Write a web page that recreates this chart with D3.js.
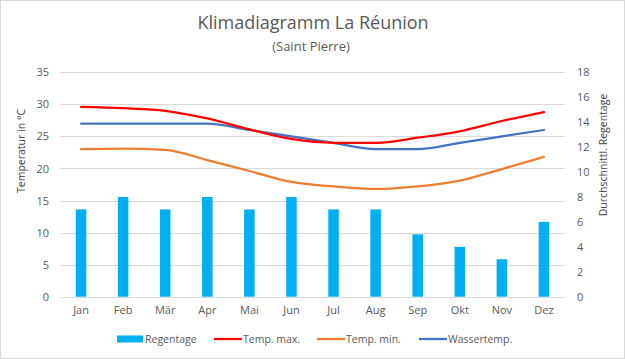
<!DOCTYPE html>
<html><head><meta charset="utf-8">
<script src="https://cdn.jsdelivr.net/npm/d3@7"></script>
<style>body{margin:0;background:#fff}svg{display:block}text{font-family:"Open Sans",sans-serif}</style>
</head><body><svg id="c" width="625" height="359"></svg>
<script>
const months = ["Jan","Feb","Mär","Apr","Mai","Jun","Jul","Aug","Sep","Okt","Nov","Dez"];
const regentage = [7,8,7,8,7,8,7,7,5,4,3,6];
const tempMax = [29.6,29.4,29.0,27.8,26.1,24.6,24.0,24.0,24.8,25.8,27.4,28.8];
const tempMin = [23.0,23.1,22.9,21.3,19.6,17.9,17.2,16.8,17.2,18.1,19.9,21.8];
const wasser = [27,27,27,27,26,25,24,23,23,24,25,26];
const leftTicks = [0,5,10,15,20,25,30,35];
const rightTicks = [0,2,4,6,8,10,12,14,16,18];

const svg = d3.select("#c");
svg.append("rect").attr("x",0.5).attr("y",0.5).attr("width",624).attr("height",358)
  .attr("fill","#fff").attr("stroke","#d9d9d9");

const L=60,R=565,T=72.3,B=296.7;
const x = d3.scaleBand().domain(months).range([L,R]).paddingInner(0.75).paddingOuter(0.375);
const xc = d => x(d)+x.bandwidth()/2;
const yL = d3.scaleLinear().domain([0,35]).range([B,T]);
const yR = d3.scaleLinear().domain([0,18]).range([B,T]);

svg.append("g").selectAll("line").data(leftTicks).join("line")
  .attr("x1",L).attr("x2",R).attr("y1",d=>Math.round(yL(d))+0.5).attr("y2",d=>Math.round(yL(d))+0.5)
  .attr("stroke","#d9d9d9").attr("stroke-width",1);

const tickStyle = g => { g.select(".domain").remove();
  g.selectAll("text").attr("fill","#595959").style("font-size","11px").style("font-family","Open Sans"); };

svg.append("g").attr("transform",`translate(${L-11},0)`)
  .call(d3.axisLeft(yL).tickValues(leftTicks).tickSize(0).tickPadding(0)).call(tickStyle);
svg.append("g").attr("transform",`translate(${R+12},0)`)
  .call(d3.axisRight(yR).tickValues(rightTicks).tickSize(0).tickPadding(0)).call(tickStyle);
svg.append("g").attr("transform",`translate(0,${B})`)
  .call(d3.axisBottom(x).tickSize(0).tickPadding(10)).call(tickStyle);

svg.append("g").selectAll("rect").data(regentage).join("rect")
  .attr("x",(d,i)=>x(months[i])).attr("width",x.bandwidth())
  .attr("y",d=>yR(d)).attr("height",d=>B-yR(d)).attr("fill","#00b0f0");

const series = [[wasser,"#4472c4"],[tempMin,"#ed7d31"],[tempMax,"#ff0000"]];
const line = d3.line().x((d,i)=>xc(months[i])).y(d=>yL(d)).curve(d3.curveMonotoneX);
series.forEach(([vals,col])=>{
  svg.append("path").datum(vals).attr("d",line).attr("fill","none").attr("stroke",col)
    .attr("stroke-width",2.25).attr("stroke-linecap","round");
});

svg.append("text").attr("x",313).attr("y",29).attr("text-anchor","middle")
  .attr("fill","#595959").style("font-size","18px").text("Klimadiagramm La Réunion");
svg.append("text").attr("x",311).attr("y",51).attr("text-anchor","middle")
  .attr("fill","#595959").style("font-size","13px").text("(Saint Pierre)");

svg.append("text").attr("transform","translate(25,151) rotate(-90)").attr("text-anchor","middle")
  .attr("fill","#404040").style("font-size","10.5px").text("Temperatur in °C");
svg.append("text").attr("transform","translate(607,155) rotate(-90)").attr("text-anchor","middle")
  .attr("fill","#404040").style("font-size","10.5px").text("Durchschnittl. Regentage");

const legY = 339;
const lg = svg.append("g");
lg.append("rect").attr("x",117).attr("y",legY-3.5).attr("width",26).attr("height",7).attr("fill","#00b0f0");
lg.append("text").attr("x",145).attr("y",legY+4).attr("fill","#595959").style("font-size","10.5px").text("Regentage");
const legItems = [["Temp. max.","#ff0000",214],["Temp. min.","#ed7d31",317],["Wassertemp.","#4472c4",419]];
legItems.forEach(([t,c,lx])=>{
  lg.append("line").attr("x1",lx).attr("x2",lx+28).attr("y1",legY).attr("y2",legY).attr("stroke",c).attr("stroke-width",2.25);
  lg.append("text").attr("x",lx+29).attr("y",legY+4).attr("fill","#595959").style("font-size","10.5px").text(t);
});
</script></body></html>
